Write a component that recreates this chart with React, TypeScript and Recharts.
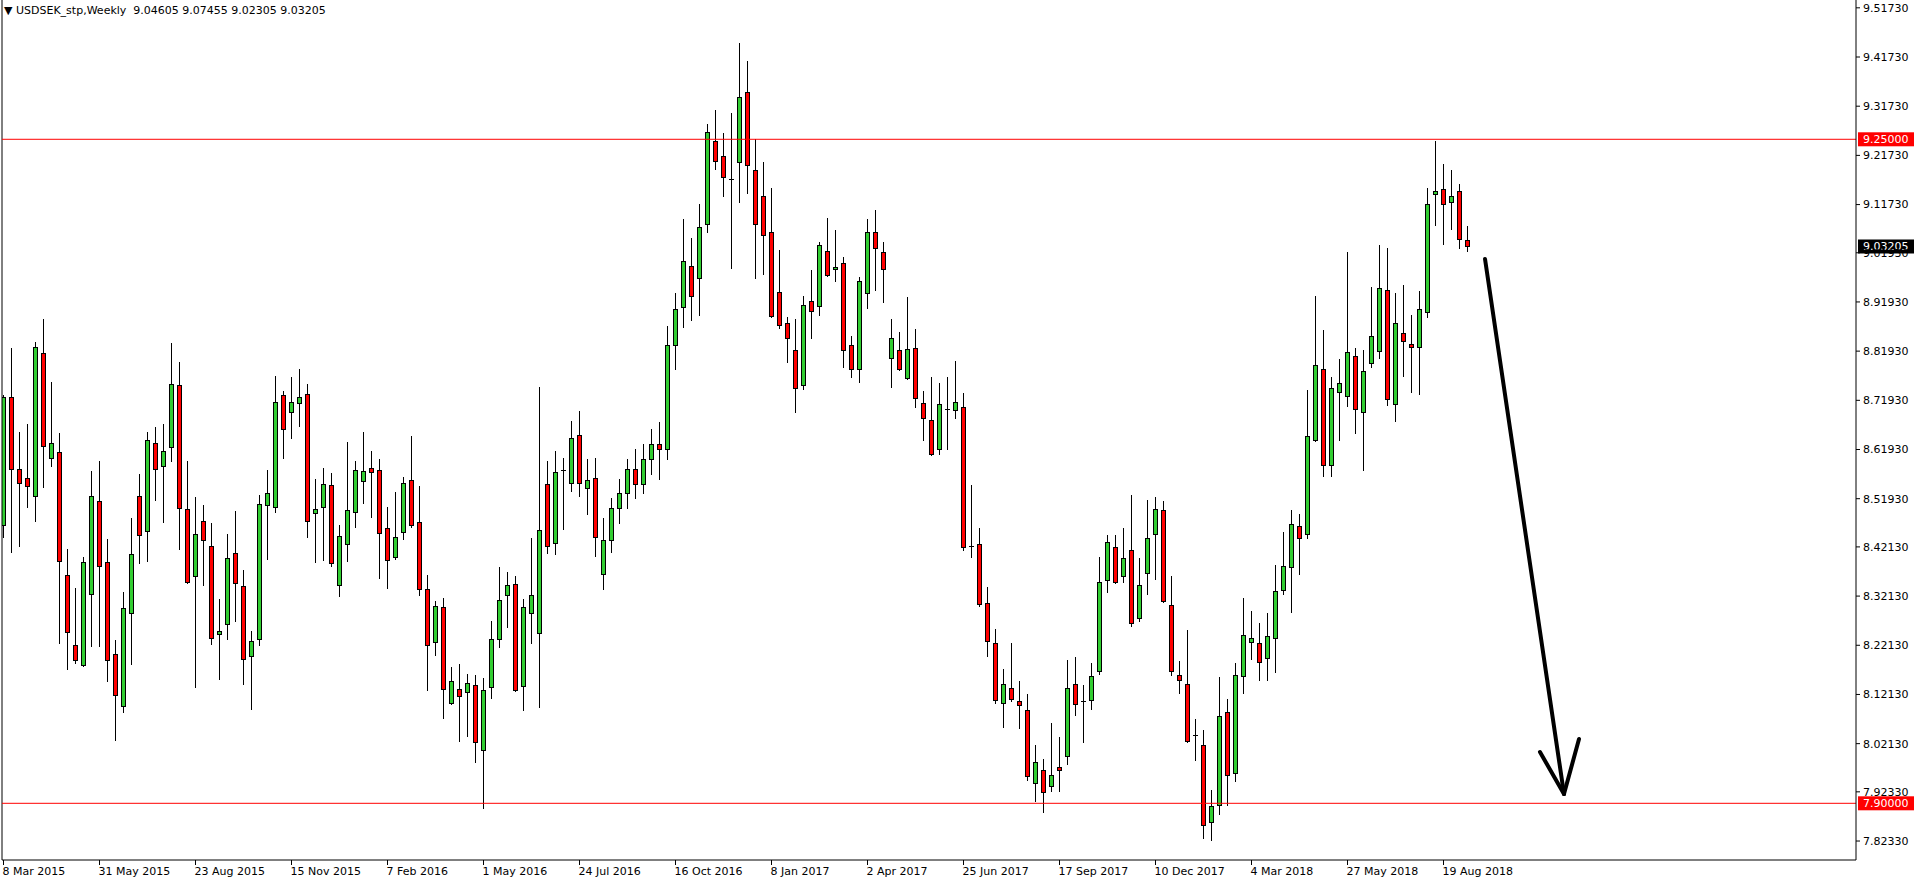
import { ComposedChart, Bar, XAxis, YAxis, ReferenceLine } from 'recharts'

const FONT = '"DejaVu Sans", sans-serif'

const dateLabels = [
  '8 Mar 2015', '31 May 2015', '23 Aug 2015', '15 Nov 2015', '7 Feb 2016', '1 May 2016',
  '24 Jul 2016', '16 Oct 2016', '8 Jan 2017', '2 Apr 2017', '25 Jun 2017', '17 Sep 2017',
  '10 Dec 2017', '4 Mar 2018', '27 May 2018', '19 Aug 2018',
]

const priceTicks = [
  9.5173, 9.4173, 9.3173, 9.2173, 9.1173, 9.0193, 8.9193, 8.8193, 8.7193, 8.6193,
  8.5193, 8.4213, 8.3213, 8.2213, 8.1213, 8.0213, 7.9233, 7.8233,
]

// weekly OHLC, USDSEK, week of 8 Mar 2015 onward
const opens = [
  8.4651, 8.7253, 8.579, 8.5607, 8.5241, 8.8148, 8.6013, 8.6135, 8.3635, 8.2211,
  8.1805, 8.3248, 8.5139, 8.3899, 8.2028, 8.0971, 8.2862, 8.5241, 8.4529, 8.6318,
  8.5851, 8.6237, 8.7497, 8.4976, 8.3614, 8.4733, 8.4224, 8.2435, 8.2638, 8.4082,
  8.3411, 8.1988, 8.2334, 8.5058, 8.5017, 8.7294, 8.6949, 8.7132, 8.7315, 8.4895,
  8.5017, 8.5465, 8.3431, 8.4265, 8.4916, 8.5546, 8.581, 8.577, 8.459, 8.4001,
  8.4509, 8.5566, 8.4712, 8.335, 8.2273, 8.2984, 8.1032, 8.1317, 8.1256, 8.1398,
  8.009, 8.1358, 8.2334, 8.3228, 8.3452, 8.1378, 8.2862, 8.2456, 8.5485, 8.4285,
  8.5776, 8.5505, 8.6481, 8.5404, 8.5607, 8.3655, 8.435, 8.5, 8.53, 8.58,
  8.55, 8.6, 8.63, 8.62, 8.8311, 8.9084, 8.9917, 8.9673, 9.0771, 9.2459,
  9.2154, 9.1686, 9.2032, 9.3455, 9.1869, 9.134, 9.0609, 8.9388, 8.8758, 8.8209,
  8.7498, 8.9208, 8.9101, 9.0221, 8.9857, 8.9979, 8.831, 8.7825, 8.9365, 9.0606,
  9.02, 8.806, 8.821, 8.764, 8.8253, 8.7133, 8.6784, 8.6199, 8.7026, 8.6991,
  8.7048, 8.4224, 8.4267, 8.3069, 8.2256, 8.1036, 8.1337, 8.1073, 8.089, 7.9406,
  7.967, 7.9345, 7.9731, 7.9955, 8.1419, 8.1087, 8.1093, 8.1683, 8.3533, 8.4204,
  8.3614, 8.4143, 8.2761, 8.3675, 8.4468, 8.4956, 8.3025, 8.1602, 8.1419, 8.0389,
  8.0179, 7.8617, 7.8963, 8.085, 7.961, 8.1587, 8.2279, 8.2256, 8.1948, 8.2354,
  8.3332, 8.3798, 8.4632, 8.4467, 8.6377, 8.782, 8.5873, 8.7354, 8.7271, 8.8091,
  8.6948, 8.7945, 8.8189, 8.9429, 8.7112, 8.8555, 8.8331, 8.827, 8.8982, 9.1381,
  9.1483, 9.1218, 9.1442, 9.04605,
]
const highs = [
  8.7301, 8.825, 8.6542, 8.6704, 8.8372, 8.8839, 8.7565, 8.6522, 8.417, 8.3377,
  8.4014, 8.5749, 8.5952, 8.4366, 8.2313, 8.3289, 8.4793, 8.5688, 8.6542, 8.6643,
  8.6704, 8.8351, 8.7965, 8.5952, 8.522, 8.5058, 8.4699, 8.3154, 8.4475, 8.4936,
  8.3736, 8.2496, 8.5261, 8.577, 8.7681, 8.7376, 8.766, 8.7823, 8.7518, 8.5587,
  8.581, 8.5709, 8.4651, 8.6339, 8.5952, 8.6542, 8.6156, 8.5993, 8.5017, 8.5322,
  8.5627, 8.6461, 8.5444, 8.3635, 8.3106, 8.3167, 8.1764, 8.1825, 8.1622, 8.1602,
  8.1541, 8.2699, 8.3797, 8.3696, 8.3614, 8.3147, 8.4387, 8.7457, 8.5952, 8.6156,
  8.6013, 8.6766, 8.6969, 8.5993, 8.6013, 8.4794, 8.52, 8.56, 8.6, 8.62,
  8.63, 8.66, 8.6758, 8.8704, 8.9368, 9.0873, 9.0486, 9.1178, 9.2804, 9.3089,
  9.2621, 9.3028, 9.4451, 9.4085, 9.2499, 9.2032, 9.1503, 9.0242, 8.888, 8.884,
  8.9307, 8.9836, 9.0407, 9.0891, 9.0649, 9.01, 8.8503, 8.9693, 9.0877, 9.1063,
  9.0407, 8.8845, 8.8581, 8.9294, 8.8638, 8.7383, 8.7668, 8.7547, 8.7668, 8.7989,
  8.734, 8.5472, 8.4595, 8.3397, 8.2541, 8.1728, 8.2252, 8.148, 8.1215, 8.0179,
  7.9894, 8.0626, 8.0341, 8.1907, 8.1968, 8.1398, 8.1846, 8.4001, 8.4448, 8.4448,
  8.459, 8.5261, 8.398, 8.516, 8.5221, 8.5139, 8.3614, 8.1886, 8.2517, 8.0707,
  8.0484, 7.9264, 8.1572, 8.1114, 8.185, 8.3174, 8.291, 8.267, 8.2873, 8.3843,
  8.452, 8.4963, 8.4881, 8.7407, 8.9317, 8.8625, 8.7662, 8.8031, 9.02, 8.8256,
  8.8219, 8.949, 9.0344, 9.0283, 8.9368, 8.9531, 8.8921, 8.9409, 9.1503, 9.2459,
  9.1991, 9.1869, 9.1584, 9.07455,
]
const lows = [
  8.4421, 8.4116, 8.4238, 8.5031, 8.4746, 8.5437, 8.5864, 8.2252, 8.1737, 8.1859,
  8.179, 8.2205, 8.2205, 8.1493, 8.0287, 8.0849, 8.1839, 8.3879, 8.3919, 8.5173,
  8.4726, 8.5966, 8.4163, 8.347, 8.1371, 8.3438, 8.2245, 8.1534, 8.2347, 8.2713,
  8.1432, 8.0924, 8.2212, 8.3974, 8.4929, 8.6027, 8.6434, 8.6678, 8.4421, 8.3913,
  8.3953, 8.3831, 8.3221, 8.3933, 8.4624, 8.5099, 8.4814, 8.3587, 8.3384, 8.396,
  8.438, 8.4624, 8.3242, 8.131, 8.2022, 8.0741, 8.102, 8.0273, 8.0375, 7.9846,
  7.8911, 8.1134, 8.2185, 8.2577, 8.1276, 8.089, 8.2252, 8.0951, 8.4082, 8.4062,
  8.457, 8.5343, 8.5241, 8.4875, 8.4021, 8.335, 8.41, 8.47, 8.5, 8.52,
  8.53, 8.57, 8.56, 8.6, 8.7837, 8.8691, 8.8833, 8.8935, 9.0622, 9.1903,
  9.1354, 8.989, 9.1232, 9.1415, 8.9687, 8.9768, 8.888, 8.8657, 8.7979, 8.6949,
  8.7417, 8.8467, 8.8937, 8.9715, 8.9629, 8.7861, 8.7675, 8.7575, 8.908, 8.9444,
  8.9201, 8.7454, 8.7804, 8.7618, 8.7062, 8.6392, 8.608, 8.6106, 8.6213, 8.6841,
  8.4145, 8.4003, 8.3005, 8.1985, 8.1036, 8.0544, 8.1073, 8.0538, 7.9467, 7.9054,
  7.883, 7.9243, 7.9243, 7.9792, 8.0789, 8.024, 8.091, 8.1622, 8.3289, 8.3472,
  8.3492, 8.2598, 8.27, 8.3249, 8.3553, 8.309, 8.1602, 8.1236, 8.024, 7.9874,
  7.8301, 7.8264, 7.879, 7.8963, 7.9444, 8.1234, 8.1933, 8.1497, 8.1497, 8.1677,
  8.3264, 8.2895, 8.367, 8.4392, 8.636, 8.5662, 8.5662, 8.6377, 8.7084, 8.652,
  8.5768, 8.7877, 8.8054, 8.7105, 8.6779, 8.7694, 8.7369, 8.7328, 8.888, 9.0764,
  9.0378, 9.0683, 9.0283, 9.02305,
]
const closes = [
  8.7253, 8.579, 8.5505, 8.5444, 8.827, 8.6257, 8.6318, 8.3919, 8.2476, 8.1906,
  8.3899, 8.5241, 8.3818, 8.1906, 8.1195, 8.2963, 8.4061, 8.4448, 8.6379, 8.579,
  8.6156, 8.7518, 8.4997, 8.3492, 8.4468, 8.4346, 8.2354, 8.2496, 8.398, 8.3472,
  8.1927, 8.2293, 8.5078, 8.5302, 8.7152, 8.6603, 8.7152, 8.7254, 8.4733, 8.4977,
  8.5485, 8.3879, 8.4428, 8.4956, 8.577, 8.5749, 8.5729, 8.4489, 8.394, 8.4407,
  8.5505, 8.4651, 8.335, 8.2212, 8.3004, 8.1317, 8.148, 8.1175, 8.1439, 8.0253,
  8.1297, 8.2334, 8.3127, 8.3431, 8.1297, 8.2984, 8.3228, 8.455, 8.4224, 8.5729,
  8.5776, 8.642, 8.5505, 8.5566, 8.4407, 8.4346, 8.5, 8.53, 8.58, 8.55,
  8.6, 8.63, 8.62, 8.8311, 8.9043, 9.0019, 8.9307, 9.071, 9.2641, 9.2052,
  9.1727, 9.1686, 9.3353, 9.1971, 9.0771, 9.0547, 8.8901, 8.8718, 8.8453, 8.7437,
  8.9124, 8.9002, 9.0342, 8.9736, 8.99, 8.821, 8.7839, 8.9629, 9.0606, 9.0285,
  8.9857, 8.8453, 8.7825, 8.8232, 8.7233, 8.6827, 8.6092, 8.7112, 8.7026, 8.7169,
  8.4202, 8.4224, 8.3047, 8.2291, 8.1093, 8.1421, 8.1114, 8.0992, 7.9548, 7.9833,
  7.9223, 7.9569, 7.967, 8.1337, 8.1012, 8.1087, 8.1581, 8.3492, 8.4306, 8.3492,
  8.398, 8.2659, 8.3431, 8.4387, 8.4977, 8.3106, 8.1683, 8.15, 8.026, 8.0389,
  7.8552, 7.894, 8.0768, 7.9572, 8.1617, 8.2414, 8.2354, 8.1873, 8.2399, 8.3309,
  8.382, 8.467, 8.4392, 8.6459, 8.7903, 8.5873, 8.7437, 8.7542, 8.8174, 8.7008,
  8.779, 8.8494, 8.947, 8.7213, 8.8758, 8.8392, 8.827, 8.9043, 9.1178, 9.1442,
  9.1178, 9.134, 9.0466, 9.03205,
]

const data = opens.map((o, i) => ({ i, open: o, high: highs[i], low: lows[i], close: closes[i] }))

const X_MIN = -0.1875
const X_MAX = 231.5625
const Y_MIN = 7.78473
const Y_MAX = 9.5332
const dateTicks = dateLabels.map((_, k) => k * 12)

const Candle = (props: any) => {
  const { x, y, width, height, payload } = props
  if (x == null || y == null || !payload) return null
  const { open, close, high, low } = payload
  const cx = Math.round(x + width / 2) + 0.5
  const yTop = height >= 0 ? y : y + height
  const h = Math.abs(height)
  const span = high - low
  const toY = (v: number) => (span === 0 ? yTop : yTop + ((high - v) / span) * h)
  const yo = toY(open)
  const yc = toY(close)
  const bTop = Math.round(Math.min(yo, yc)) + 0.5
  const bBot = Math.round(Math.max(yo, yc)) + 0.5
  const doji = Math.abs(open - close) < 0.0004
  return (
    <g>
      <line x1={cx} x2={cx} y1={Math.round(yTop)} y2={Math.round(yTop + h) + 1} stroke="#000" strokeWidth={1} />
      {doji ? (
        <line x1={cx - 2.5} x2={cx + 2.5} y1={bTop} y2={bTop} stroke="#000" strokeWidth={1} />
      ) : (
        <rect
          x={cx - 2}
          y={bTop}
          width={4}
          height={Math.max(bBot - bTop, 1)}
          fill={close > open ? '#32CD32' : '#FF0000'}
          stroke="#000"
          strokeWidth={1}
        />
      )}
    </g>
  )
}

const PriceTag = ({ viewBox, text, fill }: any) => {
  if (!viewBox) return null
  const x = viewBox.x + viewBox.width + 2
  const y = viewBox.y
  return (
    <g>
      <rect x={x} y={y - 7} width={56} height={14} fill={fill} />
      <text x={x + 5} y={y} dy="0.36em" fill="#fff" fontSize={11} fontFamily={FONT}>
        {text}
      </text>
    </g>
  )
}

const DateTick = ({ x, y, payload }: any) => (
  <text x={x - 1} y={y} dy="0.72em" textAnchor="start" fill="#000" fontSize={11} fontFamily={FONT}>
    {dateLabels[Math.round(payload.value / 12)]}
  </text>
)

export default function App() {
  return (
    <div style={{ position: 'absolute', left: 0, top: 0, width: 1916, height: 884, background: '#fff' }}>
      <ComposedChart width={1916} height={884} data={data} margin={{ top: 0, right: 0, bottom: 0, left: 2 }}>
        <XAxis
          type="number"
          dataKey="i"
          domain={[X_MIN, X_MAX]}
          allowDataOverflow
          ticks={dateTicks}
          interval={0}
          height={24}
          stroke="#000"
          tickSize={5}
          tickMargin={2}
          tick={<DateTick />}
        />
        <YAxis
          orientation="right"
          domain={[Y_MIN, Y_MAX]}
          allowDataOverflow
          ticks={priceTicks}
          interval={0}
          width={60}
          stroke="#000"
          tickSize={4}
          tickMargin={3}
          tickFormatter={(v: number) => v.toFixed(5)}
          tick={{ fill: '#000', fontSize: 11, fontFamily: FONT }}
        />
        <ReferenceLine x={X_MIN} stroke="#000" />
        <ReferenceLine
          y={9.25}
          stroke="#FF0000"
          label={(p: any) => <PriceTag viewBox={p.viewBox} text="9.25000" fill="#FF0000" />}
        />
        <ReferenceLine
          y={7.9}
          stroke="#FF0000"
          label={(p: any) => <PriceTag viewBox={p.viewBox} text="7.90000" fill="#FF0000" />}
        />
        <Bar
          dataKey={(d: any) => [d.low, d.high]}
          barSize={5}
          shape={(p: any) => <Candle {...p} />}
          isAnimationActive={false}
        />
        <ReferenceLine
          y={9.03205}
          strokeOpacity={0}
          label={(p: any) => <PriceTag viewBox={p.viewBox} text="9.03205" fill="#000" />}
        />
        <ReferenceLine segment={[{ x: 185.19, y: 9.0066 }, { x: 195.06, y: 7.9189 }]} stroke="#000" strokeWidth={4} strokeLinecap="round" />
        <ReferenceLine segment={[{ x: 192.06, y: 8.0043 }, { x: 195.06, y: 7.9189 }]} stroke="#000" strokeWidth={4} strokeLinecap="round" />
        <ReferenceLine segment={[{ x: 196.94, y: 8.0307 }, { x: 195.06, y: 7.9189 }]} stroke="#000" strokeWidth={4} strokeLinecap="round" />
      </ComposedChart>
      <div
        style={{
          position: 'absolute',
          left: 4,
          top: 4,
          fontFamily: FONT,
          fontSize: 11,
          color: '#000',
          whiteSpace: 'pre',
          lineHeight: '13px',
        }}
      >
        {'▼ USDSEK_stp,Weekly  9.04605 9.07455 9.02305 9.03205'}
      </div>
    </div>
  )
}
